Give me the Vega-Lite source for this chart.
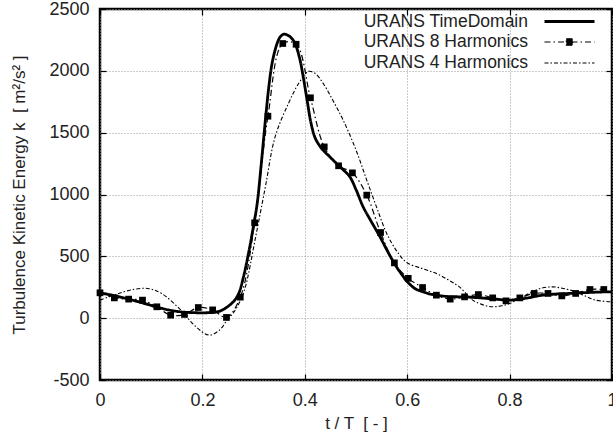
{
  "$schema": "https://vega.github.io/schema/vega-lite/v6.json",
  "width": 512,
  "height": 371,
  "autosize": {"type": "none"},
  "padding": {"left": 100, "top": 9, "right": 1, "bottom": 59},
  "background": "white",
  "config": {
    "font": "Liberation Sans",
    "view": {"stroke": "black", "strokeWidth": 2.5},
    "axis": {
      "domain": false,
      "labelFont": "Liberation Sans",
      "labelFontSize": 18,
      "labelColor": "#222",
      "labelFlush": false,
      "labelOverlap": false,
      "titleFont": "Liberation Sans",
      "titleFontSize": 17,
      "titleFontWeight": "normal",
      "titleColor": "#222",
      "gridColor": "#999",
      "gridDash": [1, 2],
      "gridWidth": 1,
      "gridOpacity": 1,
      "tickColor": "black",
      "tickWidth": 1.2,
      "tickSize": -6
    }
  },
  "datasets": {
    "curves": [
      {"t": 0.000, "k": 205, "series": "URANS TimeDomain"},
      {"t": 0.030, "k": 180, "series": "URANS TimeDomain"},
      {"t": 0.060, "k": 150, "series": "URANS TimeDomain"},
      {"t": 0.090, "k": 115, "series": "URANS TimeDomain"},
      {"t": 0.120, "k": 80, "series": "URANS TimeDomain"},
      {"t": 0.150, "k": 55, "series": "URANS TimeDomain"},
      {"t": 0.180, "k": 45, "series": "URANS TimeDomain"},
      {"t": 0.210, "k": 44, "series": "URANS TimeDomain"},
      {"t": 0.225, "k": 48, "series": "URANS TimeDomain"},
      {"t": 0.237, "k": 62, "series": "URANS TimeDomain"},
      {"t": 0.250, "k": 95, "series": "URANS TimeDomain"},
      {"t": 0.262, "k": 140, "series": "URANS TimeDomain"},
      {"t": 0.271, "k": 200, "series": "URANS TimeDomain"},
      {"t": 0.280, "k": 330, "series": "URANS TimeDomain"},
      {"t": 0.290, "k": 523, "series": "URANS TimeDomain"},
      {"t": 0.300, "k": 750, "series": "URANS TimeDomain"},
      {"t": 0.307, "k": 927, "series": "URANS TimeDomain"},
      {"t": 0.315, "k": 1250, "series": "URANS TimeDomain"},
      {"t": 0.323, "k": 1601, "series": "URANS TimeDomain"},
      {"t": 0.330, "k": 1880, "series": "URANS TimeDomain"},
      {"t": 0.336, "k": 2059, "series": "URANS TimeDomain"},
      {"t": 0.345, "k": 2210, "series": "URANS TimeDomain"},
      {"t": 0.352, "k": 2275, "series": "URANS TimeDomain"},
      {"t": 0.359, "k": 2296, "series": "URANS TimeDomain"},
      {"t": 0.368, "k": 2285, "series": "URANS TimeDomain"},
      {"t": 0.375, "k": 2260, "series": "URANS TimeDomain"},
      {"t": 0.381, "k": 2221, "series": "URANS TimeDomain"},
      {"t": 0.390, "k": 2100, "series": "URANS TimeDomain"},
      {"t": 0.397, "k": 1950, "series": "URANS TimeDomain"},
      {"t": 0.405, "k": 1750, "series": "URANS TimeDomain"},
      {"t": 0.412, "k": 1580, "series": "URANS TimeDomain"},
      {"t": 0.420, "k": 1460, "series": "URANS TimeDomain"},
      {"t": 0.428, "k": 1400, "series": "URANS TimeDomain"},
      {"t": 0.436, "k": 1358, "series": "URANS TimeDomain"},
      {"t": 0.450, "k": 1300, "series": "URANS TimeDomain"},
      {"t": 0.462, "k": 1251, "series": "URANS TimeDomain"},
      {"t": 0.475, "k": 1200, "series": "URANS TimeDomain"},
      {"t": 0.488, "k": 1143, "series": "URANS TimeDomain"},
      {"t": 0.500, "k": 1040, "series": "URANS TimeDomain"},
      {"t": 0.514, "k": 900, "series": "URANS TimeDomain"},
      {"t": 0.530, "k": 780, "series": "URANS TimeDomain"},
      {"t": 0.547, "k": 657, "series": "URANS TimeDomain"},
      {"t": 0.563, "k": 530, "series": "URANS TimeDomain"},
      {"t": 0.579, "k": 415, "series": "URANS TimeDomain"},
      {"t": 0.590, "k": 350, "series": "URANS TimeDomain"},
      {"t": 0.599, "k": 300, "series": "URANS TimeDomain"},
      {"t": 0.615, "k": 240, "series": "URANS TimeDomain"},
      {"t": 0.631, "k": 213, "series": "URANS TimeDomain"},
      {"t": 0.645, "k": 195, "series": "URANS TimeDomain"},
      {"t": 0.657, "k": 186, "series": "URANS TimeDomain"},
      {"t": 0.680, "k": 175, "series": "URANS TimeDomain"},
      {"t": 0.710, "k": 172, "series": "URANS TimeDomain"},
      {"t": 0.740, "k": 165, "series": "URANS TimeDomain"},
      {"t": 0.770, "k": 155, "series": "URANS TimeDomain"},
      {"t": 0.800, "k": 146, "series": "URANS TimeDomain"},
      {"t": 0.830, "k": 160, "series": "URANS TimeDomain"},
      {"t": 0.864, "k": 186, "series": "URANS TimeDomain"},
      {"t": 0.890, "k": 195, "series": "URANS TimeDomain"},
      {"t": 0.916, "k": 200, "series": "URANS TimeDomain"},
      {"t": 0.950, "k": 207, "series": "URANS TimeDomain"},
      {"t": 0.994, "k": 213, "series": "URANS TimeDomain"},
      {"t": 1.000, "k": 212, "series": "URANS TimeDomain"},

      {"t": 0.000, "k": 205, "series": "URANS 8 Harmonics"},
      {"t": 0.028, "k": 164, "series": "URANS 8 Harmonics"},
      {"t": 0.056, "k": 154, "series": "URANS 8 Harmonics"},
      {"t": 0.083, "k": 146, "series": "URANS 8 Harmonics"},
      {"t": 0.111, "k": 92, "series": "URANS 8 Harmonics"},
      {"t": 0.138, "k": 24, "series": "URANS 8 Harmonics"},
      {"t": 0.165, "k": 30, "series": "URANS 8 Harmonics"},
      {"t": 0.192, "k": 86, "series": "URANS 8 Harmonics"},
      {"t": 0.220, "k": 67, "series": "URANS 8 Harmonics"},
      {"t": 0.247, "k": 6, "series": "URANS 8 Harmonics"},
      {"t": 0.274, "k": 170, "series": "URANS 8 Harmonics"},
      {"t": 0.302, "k": 771, "series": "URANS 8 Harmonics"},
      {"t": 0.328, "k": 1633, "series": "URANS 8 Harmonics"},
      {"t": 0.357, "k": 2221, "series": "URANS 8 Harmonics"},
      {"t": 0.383, "k": 2215, "series": "URANS 8 Harmonics"},
      {"t": 0.411, "k": 1782, "series": "URANS 8 Harmonics"},
      {"t": 0.438, "k": 1385, "series": "URANS 8 Harmonics"},
      {"t": 0.466, "k": 1232, "series": "URANS 8 Harmonics"},
      {"t": 0.493, "k": 1175, "series": "URANS 8 Harmonics"},
      {"t": 0.521, "k": 995, "series": "URANS 8 Harmonics"},
      {"t": 0.548, "k": 693, "series": "URANS 8 Harmonics"},
      {"t": 0.575, "k": 447, "series": "URANS 8 Harmonics"},
      {"t": 0.602, "k": 322, "series": "URANS 8 Harmonics"},
      {"t": 0.630, "k": 248, "series": "URANS 8 Harmonics"},
      {"t": 0.657, "k": 186, "series": "URANS 8 Harmonics"},
      {"t": 0.684, "k": 154, "series": "URANS 8 Harmonics"},
      {"t": 0.712, "k": 172, "series": "URANS 8 Harmonics"},
      {"t": 0.739, "k": 191, "series": "URANS 8 Harmonics"},
      {"t": 0.767, "k": 164, "series": "URANS 8 Harmonics"},
      {"t": 0.793, "k": 140, "series": "URANS 8 Harmonics"},
      {"t": 0.820, "k": 164, "series": "URANS 8 Harmonics"},
      {"t": 0.848, "k": 200, "series": "URANS 8 Harmonics"},
      {"t": 0.875, "k": 200, "series": "URANS 8 Harmonics"},
      {"t": 0.902, "k": 180, "series": "URANS 8 Harmonics"},
      {"t": 0.929, "k": 200, "series": "URANS 8 Harmonics"},
      {"t": 0.957, "k": 232, "series": "URANS 8 Harmonics"},
      {"t": 0.984, "k": 232, "series": "URANS 8 Harmonics"},

      {"t": 0.000, "k": 146, "series": "URANS 4 Harmonics"},
      {"t": 0.030, "k": 190, "series": "URANS 4 Harmonics"},
      {"t": 0.060, "k": 228, "series": "URANS 4 Harmonics"},
      {"t": 0.093, "k": 240, "series": "URANS 4 Harmonics"},
      {"t": 0.120, "k": 200, "series": "URANS 4 Harmonics"},
      {"t": 0.158, "k": 65, "series": "URANS 4 Harmonics"},
      {"t": 0.185, "k": -60, "series": "URANS 4 Harmonics"},
      {"t": 0.213, "k": -137, "series": "URANS 4 Harmonics"},
      {"t": 0.235, "k": -90, "series": "URANS 4 Harmonics"},
      {"t": 0.248, "k": -16, "series": "URANS 4 Harmonics"},
      {"t": 0.260, "k": 40, "series": "URANS 4 Harmonics"},
      {"t": 0.274, "k": 140, "series": "URANS 4 Harmonics"},
      {"t": 0.284, "k": 253, "series": "URANS 4 Harmonics"},
      {"t": 0.304, "k": 657, "series": "URANS 4 Harmonics"},
      {"t": 0.323, "k": 1062, "series": "URANS 4 Harmonics"},
      {"t": 0.342, "k": 1466, "series": "URANS 4 Harmonics"},
      {"t": 0.368, "k": 1736, "series": "URANS 4 Harmonics"},
      {"t": 0.388, "k": 1898, "series": "URANS 4 Harmonics"},
      {"t": 0.407, "k": 1995, "series": "URANS 4 Harmonics"},
      {"t": 0.420, "k": 1980, "series": "URANS 4 Harmonics"},
      {"t": 0.436, "k": 1898, "series": "URANS 4 Harmonics"},
      {"t": 0.455, "k": 1760, "series": "URANS 4 Harmonics"},
      {"t": 0.475, "k": 1601, "series": "URANS 4 Harmonics"},
      {"t": 0.500, "k": 1360, "series": "URANS 4 Harmonics"},
      {"t": 0.521, "k": 1116, "series": "URANS 4 Harmonics"},
      {"t": 0.540, "k": 900, "series": "URANS 4 Harmonics"},
      {"t": 0.560, "k": 685, "series": "URANS 4 Harmonics"},
      {"t": 0.580, "k": 540, "series": "URANS 4 Harmonics"},
      {"t": 0.599, "k": 450, "series": "URANS 4 Harmonics"},
      {"t": 0.630, "k": 400, "series": "URANS 4 Harmonics"},
      {"t": 0.657, "k": 361, "series": "URANS 4 Harmonics"},
      {"t": 0.680, "k": 310, "series": "URANS 4 Harmonics"},
      {"t": 0.702, "k": 253, "series": "URANS 4 Harmonics"},
      {"t": 0.728, "k": 146, "series": "URANS 4 Harmonics"},
      {"t": 0.750, "k": 105, "series": "URANS 4 Harmonics"},
      {"t": 0.767, "k": 92, "series": "URANS 4 Harmonics"},
      {"t": 0.785, "k": 100, "series": "URANS 4 Harmonics"},
      {"t": 0.800, "k": 119, "series": "URANS 4 Harmonics"},
      {"t": 0.820, "k": 160, "series": "URANS 4 Harmonics"},
      {"t": 0.838, "k": 200, "series": "URANS 4 Harmonics"},
      {"t": 0.860, "k": 240, "series": "URANS 4 Harmonics"},
      {"t": 0.884, "k": 253, "series": "URANS 4 Harmonics"},
      {"t": 0.905, "k": 240, "series": "URANS 4 Harmonics"},
      {"t": 0.929, "k": 213, "series": "URANS 4 Harmonics"},
      {"t": 0.950, "k": 175, "series": "URANS 4 Harmonics"},
      {"t": 0.968, "k": 146, "series": "URANS 4 Harmonics"},
      {"t": 1.000, "k": 132, "series": "URANS 4 Harmonics"}
    ]
  },
  "data": {"name": "curves"},
  "resolve": {"axis": {"x": "independent", "y": "independent"}},
  "layer": [
    {
      "mark": {"type": "line", "interpolate": "catmull-rom", "clip": true},
      "encoding": {
        "x": {
          "field": "t", "type": "quantitative",
          "scale": {"domain": [0, 1], "nice": false, "zero": false},
          "axis": {
            "values": [0, 0.2, 0.4, 0.6, 0.8, 1],
            "labelExpr": "datum.value + ''",
            "title": "t / T \u00a0[ - ]",
            "labelPadding": 17,
            "titleX": 256, "titleY": 43, "titleBaseline": "middle"
          }
        },
        "y": {
          "field": "k", "type": "quantitative",
          "scale": {"domain": [-500, 2500], "nice": false},
          "axis": {
            "values": [-500, 0, 500, 1000, 1500, 2000, 2500],
            "labelExpr": "datum.value + ''",
            "title": "Turbulence Kinetic Energy k \u00a0[ m²/s² ]",
            "labelPadding": 17,
            "titleX": -81, "titleY": 185.5, "titleBaseline": "middle", "titleAngle": -90
          }
        },
        "color": {"value": "black"},
        "strokeDash": {
          "field": "series", "type": "nominal",
          "scale": {
            "domain": ["URANS TimeDomain", "URANS 8 Harmonics", "URANS 4 Harmonics"],
            "range": [[1, 0], [6, 3, 1.5, 3], [4, 2, 1.5, 2]]
          },
          "legend": {
            "title": null,
            "orient": "none",
            "legendX": 458,
            "legendY": 1,
            "padding": 0,
            "symbolType": "stroke",
            "symbolSize": 400,
            "symbolStrokeColor": "black",
            "labelAlign": "right",
            "labelOffset": -53,
            "labelFont": "Liberation Sans",
            "labelFontSize": 17.5,
            "labelColor": "#222",
            "labelLimit": 400,
            "rowPadding": 1,
            "encode": {
              "symbols": {
                "update": {
                  "shape": {"signal": "datum.value === 'URANS 8 Harmonics' ? 'M-2.5,0L2.5,0M-0.32,-0.32L0.32,-0.32L0.32,0.32L-0.32,0.32Z' : 'M-2.5,0L2.5,0'"},
                  "fill": {"signal": "datum.value === 'URANS 8 Harmonics' ? 'black' : 'transparent'"},
                  "stroke": {"value": "black"},
                  "strokeWidth": {"signal": "datum.value === 'URANS TimeDomain' ? 2.8 : 1.2"},
                  "strokeDash": {"signal": "datum.value === 'URANS TimeDomain' ? [1, 0] : (datum.value === 'URANS 8 Harmonics' ? [6, 3, 1.5, 3] : [4, 2, 1.5, 2])"},
                  "opacity": {"value": 1}
                }
              }
            }
          }
        },
        "strokeWidth": {
          "field": "series", "type": "nominal",
          "scale": {
            "type": "ordinal",
            "domain": ["URANS TimeDomain", "URANS 8 Harmonics", "URANS 4 Harmonics"],
            "range": [2.8, 1.2, 1.1]
          },
          "legend": {
            "title": null,
            "orient": "none",
            "legendX": 458,
            "legendY": 1
          }
        }
      }
    },
    {
      "transform": [{"filter": "datum.series === 'URANS 8 Harmonics'"}],
      "mark": {"type": "point", "shape": "square", "filled": true, "size": 45, "color": "black", "opacity": 1},
      "encoding": {
        "x": {"field": "t", "type": "quantitative", "axis": null},
        "y": {"field": "k", "type": "quantitative", "axis": null}
      }
    },
    {
      "mark": {"type": "point", "opacity": 0},
      "encoding": {
        "x": {"field": "t", "type": "quantitative",
          "axis": {"orient": "top", "values": [0, 0.2, 0.4, 0.6, 0.8, 1], "labels": false, "grid": false, "title": null}},
        "y": {"field": "k", "type": "quantitative",
          "axis": {"orient": "right", "values": [-500, 0, 500, 1000, 1500, 2000, 2500], "labels": false, "grid": false, "title": null}}
      }
    }
  ]
}
